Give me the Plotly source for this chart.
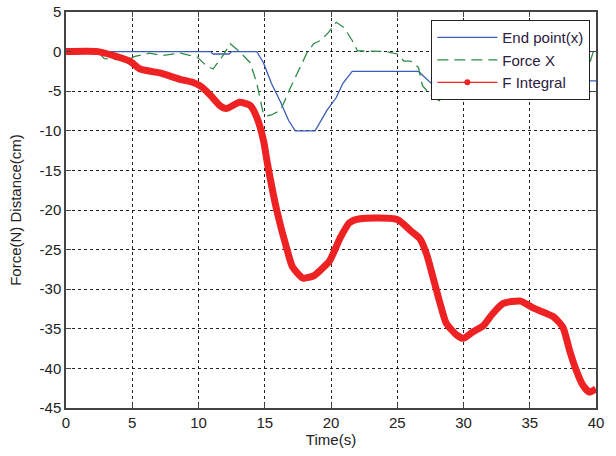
import plotly.graph_objects as go

# End point(x)
t_end = [0, 10.9, 11.1, 12.3, 12.5, 14.4, 14.9, 15.5, 16.2, 16.8, 17.3, 18.8, 19.7, 20.4, 20.9, 21.6, 26.6, 27.2, 27.7, 28.5, 32, 36, 40]
v_end = [0, 0, -0.3, -0.3, 0, 0, -1.4, -4, -6.4, -8.7, -10, -10, -7.4, -5.8, -4, -2.5, -2.5, -3.4, -4.2, -4.0, -3.8, -3.7, -3.7]

# Force X
t_fx = [0, 2.4, 2.9, 4.6, 5.2, 6.3, 7.3, 8.6, 9.9, 10.6, 11.1, 11.8, 12.4, 13.1, 13.9, 14.4, 14.9, 15.2, 15.5, 16.2, 16.9, 17.7, 18.2, 18.7, 19.2, 19.8, 20.4, 21.0, 21.6, 22.0, 24.2, 25.0, 25.5, 26.0, 26.6, 26.9, 27.7, 28.2, 29.5, 31, 33, 35, 37, 38.3, 38.8, 39.4, 39.8, 40]
v_fx = [0, 0, -0.9, -1.1, -0.6, -0.2, -0.5, -0.2, -0.7, -1.8, -2.2, -0.6, 1.0, 0, -1.4, -4, -7.9, -8.1, -8.0, -7.4, -4.7, -2.0, -0.1, 1.0, 1.4, 2.4, 3.7, 3.0, 1.4, 0.1, 0, -0.3, -1.2, -1.2, -2.0, -4.3, -5.8, -6.2, -4.5, -3.0, -2.5, -2.0, -3.5, -5.8, -5.2, -2.0, 0, 0]

# F Integral
t_fi = [0, 2.4, 4.8, 5.6, 7.1, 8.6, 9.6, 10.1, 10.9, 11.6, 12.1, 13.1, 13.9, 14.4, 14.9, 15.2, 15.9, 16.7, 17.1, 17.9, 18.7, 19.2, 19.9, 20.7, 21.4, 22.2, 25.0, 26.0, 26.7, 27.2, 27.7, 28.2, 28.7, 29.5, 30.0, 30.7, 31.5, 32.2, 33.0, 34.3, 35.3, 36.8, 37.5, 38.0, 38.5, 39.0, 39.5, 40.0]
v_fi = [0, 0, -1.2, -2.2, -2.7, -3.5, -3.9, -4.3, -5.5, -6.8, -7.2, -6.4, -6.8, -8.3, -11.2, -14.1, -20, -25.1, -27.2, -28.6, -28.3, -27.6, -26.4, -23.5, -21.6, -21.1, -21.2, -22.6, -23.6, -25.5, -28.5, -31.6, -34.3, -35.8, -36.2, -35.4, -34.6, -33.1, -31.8, -31.5, -32.4, -33.5, -34.8, -37.7, -40.2, -42.1, -43.0, -42.6]

x_ticks = [0, 5, 10, 15, 20, 25, 30, 35, 40]
y_ticks = [5, 0, -5, -10, -15, -20, -25, -30, -35, -40, -45]

BLUE = "#3a5cb8"
GREEN = "#2e8b46"
RED = "#ee2222"
FONT = "Liberation Sans, Arial"

fig = go.Figure()
fig.add_trace(go.Scatter(x=t_end, y=v_end, mode="lines", name="End point(x)",
                         line=dict(color=BLUE, width=1.3)))
fig.add_trace(go.Scatter(x=t_fx, y=v_fx, mode="lines", name="Force X",
                         line=dict(color=GREEN, width=1.3, dash="11px,6px")))
fig.add_trace(go.Scatter(x=t_fi, y=v_fi, mode="lines", name="F Integral", showlegend=False,
                         line=dict(color=RED, width=7, shape="spline", smoothing=0.6)))
fig.add_trace(go.Scatter(x=[None], y=[None], mode="lines+markers", name="F Integral",
                         line=dict(color=RED, width=1.3), marker=dict(color=RED, size=6)))

axis_common = dict(showgrid=True, gridcolor="#222", griddash="3px,3px", gridwidth=1,
                   showline=True, linecolor="#444", linewidth=1.5, mirror="ticks",
                   ticks="inside", ticklen=5, tickcolor="#444", zeroline=False,
                   automargin=False,
                   tickfont=dict(family=FONT, size=15, color="#222"))

fig.update_xaxes(range=[0, 40], tickvals=x_ticks, ticktext=[str(v) for v in x_ticks],
                 title=dict(text="Time(s)", font=dict(family=FONT, size=15, color="#222"), standoff=4),
                 **axis_common)
fig.update_yaxes(range=[-45, 5], tickvals=y_ticks, ticktext=[str(v) for v in y_ticks],
                 title=dict(text="Force(N) Distance(cm)", font=dict(family=FONT, size=15, color="#222"), standoff=14),
                 **axis_common)

fig.update_layout(
    width=616, height=456,
    margin=dict(l=66, r=20, t=12, b=48, autoexpand=False),
    paper_bgcolor="white", plot_bgcolor="white",
    showlegend=True,
    legend=dict(x=0.989, y=0.98, xanchor="right", yanchor="top",
                bgcolor="white", bordercolor="#222", borderwidth=1.2,
                font=dict(family=FONT, size=15, color="#2a2040"),
                tracegroupgap=0, itemwidth=60),
)

fig.write_html("out.html")
